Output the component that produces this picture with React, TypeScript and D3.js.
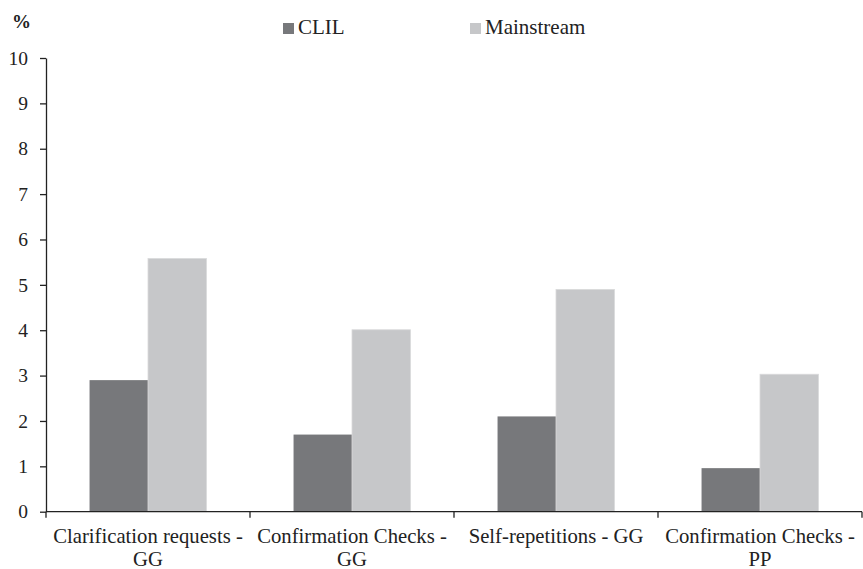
import * as d3 from 'd3'
import React, { useEffect, useRef } from 'react'

const categories = [
  'Clarification requests - GG',
  'Confirmation Checks - GG',
  'Self-repetitions - GG',
  'Confirmation Checks - PP',
]
const seriesNames = ['CLIL', 'Mainstream']
const clilValues = [2.9, 1.7, 2.1, 0.96]
const mainstreamValues = [5.58, 4.01, 4.9, 3.03]
const yTicks = [0, 1, 2, 3, 4, 5, 6, 7, 8, 9, 10]

const colors: Record<string, string> = { CLIL: '#77787b', Mainstream: '#c6c7c9' }
const FONT = 'Liberation Serif, serif'

const App = () => {
  const svgRef = useRef<any>(null)

  useEffect(() => {
    if (!svgRef.current) return
    const svg = d3.select(svgRef.current)
    svg.selectAll('*').remove()

    const width = 863
    const height = 569
    const left = 46
    const right = 862
    const top = 58
    const bottom = 511.7

    svg.attr('width', width).attr('height', height)
      .attr('font-family', FONT)

    const x = d3.scaleBand().domain(categories).range([left, right]).padding(0)
    const xs = d3.scaleBand().domain(seriesNames)
      .range([0, x.bandwidth()]).paddingInner(0).paddingOuter(0.745)
    const y = d3.scaleLinear().domain([0, 10]).range([bottom, top])

    const rows = categories.map((c, i) => ({
      cat: c,
      vals: [
        { s: 'CLIL', v: clilValues[i] },
        { s: 'Mainstream', v: mainstreamValues[i] },
      ],
    }))

    // bars
    const groups = svg.selectAll('.cat')
      .data(rows)
      .enter()
      .append('g')
      .attr('transform', (d) => `translate(${x(d.cat)},0)`)

    groups.selectAll('rect')
      .data((d) => d.vals)
      .enter()
      .append('rect')
      .attr('x', (d) => xs(d.s) as number)
      .attr('width', xs.bandwidth())
      .attr('y', (d) => y(d.v))
      .attr('height', (d) => bottom - y(d.v))
      .attr('fill', (d) => colors[d.s])
      .attr('stroke', (d) => d.s === 'Mainstream' ? '#d9dadb' : 'none')
      .attr('stroke-width', 0.8)

    // y axis
    const yAxis = svg.append('g')
      .attr('transform', `translate(${left},0)`)
      .call(d3.axisLeft(y).tickValues(yTicks).tickSize(6).tickPadding(12).tickSizeOuter(0))
    yAxis.attr('font-family', FONT).attr('font-size', 19.5)
    yAxis.select('.domain').attr('stroke', '#222').attr('stroke-width', 1.3)
    yAxis.selectAll('.tick line').attr('stroke', '#222').attr('stroke-width', 1.3)
    yAxis.selectAll('.tick text').attr('fill', '#222')

    // x axis line and boundary ticks
    svg.append('line')
      .attr('x1', left).attr('x2', right)
      .attr('y1', bottom).attr('y2', bottom)
      .attr('stroke', '#222').attr('stroke-width', 1.3)
    const bounds = categories.map((c) => x(c) as number).concat([right])
    svg.selectAll('.xtick')
      .data(bounds)
      .enter()
      .append('line')
      .attr('x1', (d) => d).attr('x2', (d) => d)
      .attr('y1', bottom).attr('y2', bottom + 6)
      .attr('stroke', '#222').attr('stroke-width', 1.3)

    // category labels, wrapped to band width
    const labels = svg.selectAll('.xlabel')
      .data(categories)
      .enter()
      .append('text')
      .attr('text-anchor', 'middle')
      .attr('fill', '#222')
      .attr('font-size', 20.7)
      .attr('x', (d) => (x(d) as number) + x.bandwidth() / 2)
      .attr('y', 543)

    labels.each(function (d) {
      const t = d3.select(this)
      const words = d.split(' ')
      const cx = (x(d) as number) + x.bandwidth() / 2
      let line: string[] = []
      let tspan = t.append('tspan').attr('x', cx).attr('dy', 0)
      words.forEach((w) => {
        line.push(w)
        tspan.text(line.join(' '))
        if ((tspan.node() as any).getComputedTextLength() > x.bandwidth() - 4 && line.length > 1) {
          line.pop()
          tspan.text(line.join(' '))
          line = [w]
          tspan = t.append('tspan').attr('x', cx).attr('dy', 23).text(w)
        }
      })
    })

    // % label
    svg.append('text')
      .attr('x', 12).attr('y', 28)
      .attr('fill', '#222')
      .attr('font-size', 19)
      .attr('font-weight', 'bold')
      .text('%')

    // legend
    const legendX = [283, 470]
    const legend = svg.selectAll('.legend')
      .data(seriesNames)
      .enter()
      .append('g')
      .attr('transform', (d, i) => `translate(${legendX[i]},0)`)
    legend.append('rect')
      .attr('x', 0).attr('y', 23)
      .attr('width', 11).attr('height', 11)
      .attr('fill', (d) => colors[d])
    legend.append('text')
      .attr('x', 15).attr('y', 34)
      .attr('fill', '#222')
      .attr('font-size', 21)
      .text((d) => d)
  }, [])

  return (
    <div style={{ position: 'absolute', left: 0, top: 0 }}>
      <svg ref={svgRef}></svg>
    </div>
  )
}

export default App
